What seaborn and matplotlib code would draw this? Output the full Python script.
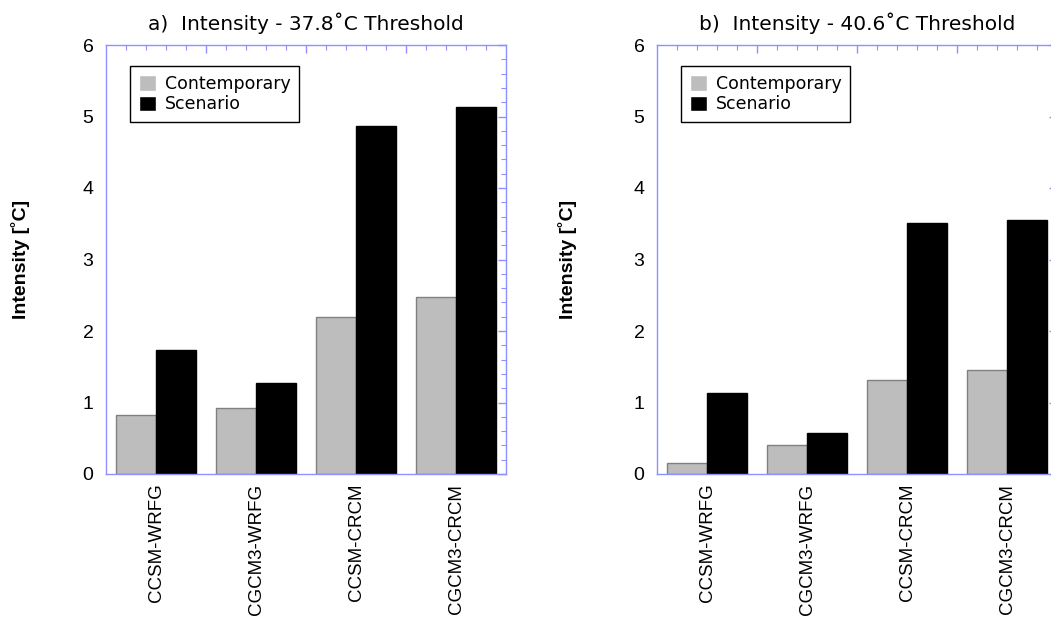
import numpy as np
import pandas as pd
import matplotlib
matplotlib.use('Agg')
import matplotlib.pyplot as plt
import seaborn as sns

# data
models = ['CCSM-WRFG', 'CGCM3-WRFG', 'CCSM-CRCM', 'CGCM3-CRCM']
periods = ['Contemporary', 'Scenario']
contemp_378 = [0.82, 0.93, 2.19, 2.47]
scenario_378 = [1.73, 1.27, 4.87, 5.13]
contemp_406 = [0.16, 0.40, 1.31, 1.46]
scenario_406 = [1.13, 0.58, 3.51, 3.55]
titles = ['a)  Intensity - 37.8˚C Threshold', 'b)  Intensity - 40.6˚C Threshold']
ylabel = 'Intensity [˚C]'


def long_table(contemp, scen):
    return pd.DataFrame({
        'model': models * 2,
        'period': [periods[0]] * len(models) + [periods[1]] * len(models),
        'intensity': list(contemp) + list(scen),
    })


sns.set_style('white')
plt.rcParams['font.family'] = ['DejaVu Sans']
plt.rcParams['text.color'] = 'black'
plt.rcParams['axes.labelcolor'] = 'black'
plt.rcParams['xtick.labelcolor'] = 'black'
plt.rcParams['ytick.labelcolor'] = 'black'

spine_col = '#8f8fff'
fig = plt.figure(figsize=(10.51, 6.23), dpi=100)
ax_pos = [[106 / 1051, 149 / 623, 400 / 1051, 429 / 623],
          [657 / 1051, 149 / 623, 400 / 1051, 429 / 623]]
tables = [long_table(contemp_378, scenario_378), long_table(contemp_406, scenario_406)]
label_x = [-0.19, -0.20]

for i in range(2):
    ax = fig.add_axes(ax_pos[i])
    sns.barplot(data=tables[i], x='model', y='intensity', hue='period',
                palette=['#bdbdbd', 'black'], saturation=1, width=0.8,
                linewidth=1, ax=ax)
    for bar in ax.containers[0]:
        bar.set_edgecolor('#808080')
    for bar in ax.containers[1]:
        bar.set_edgecolor('black')

    ax.set_xlim(-0.5, 3.5)
    ax.set_ylim(0, 6)

    # ticks: long at group edges, short every 0.2 inside
    ax.set_xticks([0.5, 1.5, 2.5], labels=[])
    ax.set_xticks([g + d for g in range(4) for d in (-0.3, -0.1, 0.1, 0.3)], minor=True)
    ax.set_yticks(range(7))
    ax.set_yticks(np.arange(0, 6.01, 0.2), minor=True)
    ax.tick_params(which='both', direction='in', top=True, right=True, color=spine_col)
    ax.tick_params(which='major', length=6, width=1)
    ax.tick_params(which='minor', length=3.5, width=0.8)
    ax.tick_params(axis='y', labelsize=14, pad=9, labelfontfamily='Liberation Sans')
    ax.set_xlabel('')

    # model names under the groups
    sec = ax.secondary_xaxis('bottom')
    sec.set_xticks(range(4), labels=models, rotation=90)
    sec.tick_params(length=0, pad=7, labelsize=13.5, labelfontfamily='Liberation Sans',
                    labelcolor='black')
    sec.spines['bottom'].set_visible(False)

    for s in ax.spines.values():
        s.set_color(spine_col)
        s.set_linewidth(1)

    ax.set_ylabel(ylabel, fontsize=14, fontweight='bold', family='Liberation Sans')
    ax.yaxis.set_label_coords(label_x[i], 0.5)
    ax.set_title(titles[i], fontsize=14.5, pad=11)

    leg = ax.legend(loc='upper left', bbox_to_anchor=(0.06, 0.951), borderaxespad=0,
                    fontsize=12.5, fancybox=False, edgecolor='black', framealpha=1,
                    handlelength=1.0, handleheight=1.0, handletextpad=0.5,
                    labelspacing=0.15, borderpad=0.5, title=None)
    leg.get_frame().set_linewidth(1)

fig.savefig('out.png', dpi=100)
